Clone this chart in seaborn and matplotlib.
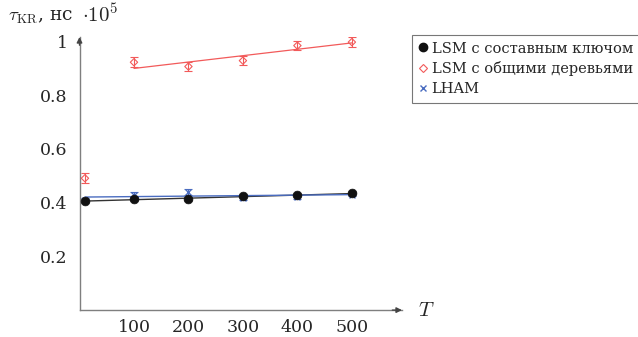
import numpy as np
import pandas as pd
import matplotlib
matplotlib.use("Agg")
import matplotlib.pyplot as plt
import seaborn as sns
from matplotlib.lines import Line2D

# ---- data (values in units of 10^5 ns) ----
T = [10, 100, 200, 300, 400, 500]
lsm_key = [0.407, 0.413, 0.415, 0.426, 0.429, 0.435]
lsm_key_err = [0.004, 0.004, 0.004, 0.004, 0.004, 0.004]
T_shared = [10, 100, 200, 300, 400, 500]
lsm_shared = [0.491, 0.923, 0.907, 0.929, 0.985, 0.998]
lsm_shared_err = [0.018, 0.018, 0.018, 0.018, 0.018, 0.018]
lham = [0.410, 0.430, 0.440, 0.418, 0.420, 0.430]
lham_err = [0.008, 0.010, 0.010, 0.008, 0.008, 0.006]

# fitted trend lines (endpoints)
fit_key_T = [10, 500]
fit_key_y = [0.406, 0.434]
fit_shared_T = [100, 500]
fit_shared_y = [0.900, 0.995]
fit_lham_T = [10, 500]
fit_lham_y = [0.421, 0.430]

x_ticks = [100, 200, 300, 400, 500]
y_ticks = [0.2, 0.4, 0.6, 0.8, 1.0]
y_tick_labels = ["0.2", "0.4", "0.6", "0.8", "1"]

labels = ["LSM с составным ключом", "LSM с общими деревьями", "LHAM"]

RED = "#f25a5a"
BLUE = "#4a6cc0"
BLACK = "#111111"

sns.set_style("white")
plt.rcParams["font.family"] = ["DejaVu Serif"]
plt.rcParams["mathtext.fontset"] = "cm"

fig = plt.figure(figsize=(6.38, 3.37), dpi=100)
ax = fig.add_axes([79.5 / 638, 1 - 310.1 / 337, (402 - 79.5) / 638, (310.1 - 37) / 337])

# fit lines
sns.lineplot(x=fit_key_T, y=fit_key_y, ax=ax, color="#333333", lw=1.0)
sns.lineplot(x=fit_shared_T, y=fit_shared_y, ax=ax, color=RED, lw=0.9)
sns.lineplot(x=fit_lham_T, y=fit_lham_y, ax=ax, color=BLUE, lw=1.0)

# error bars
ax.errorbar(T_shared, lsm_shared, yerr=lsm_shared_err, fmt="none", ecolor=RED,
            elinewidth=0.8, capsize=3, capthick=0.8)
ax.errorbar(T, lham, yerr=lham_err, fmt="none", ecolor=BLUE,
            elinewidth=0.8, capsize=3, capthick=0.8)
ax.errorbar(T, lsm_key, yerr=lsm_key_err, fmt="none", ecolor=BLACK,
            elinewidth=0.8, capsize=3, capthick=0.8)

# points
df_sh = pd.DataFrame({"T": T_shared, "v": lsm_shared})
sns.scatterplot(data=df_sh, x="T", y="v", ax=ax, marker="D", s=14,
                facecolor="none", edgecolor=RED, linewidth=0.8, zorder=5)
df_h = pd.DataFrame({"T": T, "v": lham})
sns.scatterplot(data=df_h, x="T", y="v", ax=ax, marker="x", s=18,
                color=BLUE, linewidth=1.0, zorder=5)
df_k = pd.DataFrame({"T": T, "v": lsm_key})
sns.scatterplot(data=df_k, x="T", y="v", ax=ax, marker="o", s=40,
                color=BLACK, edgecolor=BLACK, zorder=6)

ax.set_xlim(0, 592)
ax.set_ylim(0, 1.017)
ax.set_xlabel("")
ax.set_ylabel("")
ax.set_xticks(x_ticks)
ax.set_xticklabels([str(t) for t in x_ticks])
ax.set_yticks(y_ticks)
ax.set_yticklabels(y_tick_labels)
ax.tick_params(axis="both", direction="inout", length=5, width=0.6,
               color="#555555", labelsize=12.5, pad=6)
ax.tick_params(axis="x", pad=4)
for s in ["top", "right"]:
    ax.spines[s].set_visible(False)
for s in ["left", "bottom"]:
    ax.spines[s].set_color("#7f7f7f")
    ax.spines[s].set_linewidth(1.0)
ax.set_facecolor("none")

# arrows on axis ends
ax.annotate("", xy=(1.0, 0), xytext=(0.97, 0), xycoords="axes fraction",
            arrowprops=dict(arrowstyle="-|>", color="#444444", lw=1.0,
                            mutation_scale=8, shrinkA=0, shrinkB=0))
ax.annotate("", xy=(0, 1.0), xytext=(0, 0.97), xycoords="axes fraction",
            arrowprops=dict(arrowstyle="-|>", color="#444444", lw=1.0,
                            mutation_scale=8, shrinkA=0, shrinkB=0))

fig.text(418 / 638, 1 - 311 / 337, r"$T$", fontsize=15, va="center", ha="left")
fig.text(8 / 638, 1 - 17 / 337, r"$\tau_{\mathrm{KR}}$, нс", fontsize=13.5,
         va="center", ha="left")
fig.text(82 / 638, 1 - 15 / 337, r"$\cdot 10^5$", fontsize=15,
         va="center", ha="left")

handles = [
    Line2D([], [], ls="none", marker="o", color=BLACK, markersize=6),
    Line2D([], [], ls="none", marker="D", markerfacecolor="none",
           markeredgecolor=RED, markersize=4, markeredgewidth=0.8),
    Line2D([], [], ls="none", marker="x", color=BLUE, markersize=4,
           markeredgewidth=1.0),
]
leg = fig.legend(handles, labels, loc="upper left",
                 bbox_to_anchor=(412 / 638, 1 - 35 / 337), fontsize=10.5,
                 frameon=True, fancybox=False, edgecolor="#555555",
                 handlelength=0.6, handletextpad=0.3, borderpad=0.45,
                 labelspacing=0.4, borderaxespad=0)
leg.get_frame().set_linewidth(0.8)

fig.savefig("out.png", dpi=100)
